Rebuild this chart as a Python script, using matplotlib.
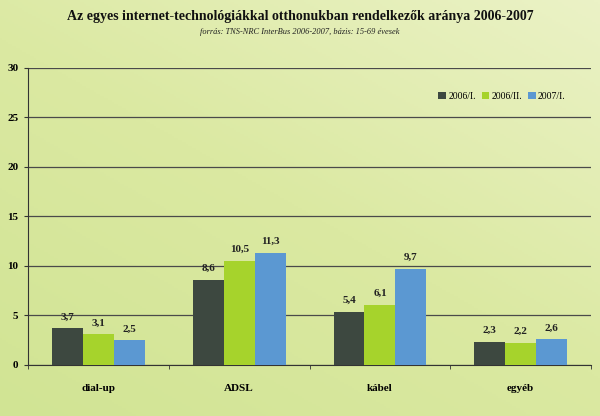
import matplotlib
matplotlib.use('Agg')
import matplotlib.pyplot as plt
import numpy as np
from matplotlib.colors import LinearSegmentedColormap

categories = ['dial-up', 'ADSL', 'kábel', 'egyéb']
series_names = ['2006/I.', '2006/II.', '2007/I.']
v_2006_1 = [3.7, 8.6, 5.4, 2.3]
v_2006_2 = [3.1, 10.5, 6.1, 2.2]
v_2007_1 = [2.5, 11.3, 9.7, 2.6]
colors = ['#3d4840', '#a6d32c', '#5b98d2']

plt.rcParams['font.family'] = ['Liberation Serif', 'DejaVu Serif']

fig = plt.figure(figsize=(6, 4.16), dpi=100)

# background gradient
bg = fig.add_axes([0, 0, 1, 1], zorder=0)
xx, yy = np.meshgrid(np.linspace(0, 1, 300), np.linspace(0, 1, 208))
grad = 0.55 * yy + 0.45 * xx
cmap = LinearSegmentedColormap.from_list('bg', ['#d1e494', '#dbe9a2', '#ebf2c6'])
bg.imshow(grad, cmap=cmap, origin='lower', aspect='auto', extent=[0, 1, 0, 1])
bg.axis('off')

ax = fig.add_axes([0.047, 0.1226, 0.938, 0.714], zorder=1)
ax.patch.set_alpha(0)

x = np.arange(len(categories))
w = 0.22
for i, (vals, name) in enumerate(zip([v_2006_1, v_2006_2, v_2007_1], series_names)):
    pos = x + (i - 1) * w
    ax.bar(pos, vals, width=w, color=colors[i], label=name, zorder=3)
    for p, v in zip(pos, vals):
        ax.text(p, v + 0.7, f'{v:.1f}'.replace('.', ','), ha='center', va='bottom',
                fontsize=8, fontweight='bold', color='#222222', zorder=4)

ax.set_xlim(-0.5, 3.5)
ax.set_ylim(0, 30)
ax.set_yticks(range(0, 31, 5))
ax.yaxis.grid(True, color='#4a4a4a', linewidth=0.9, zorder=1)
ax.set_axisbelow(True)
ax.set_xticks(x)
ax.set_xticklabels(categories, fontsize=8, fontweight='bold')
ax.tick_params(axis='x', length=0, pad=14)
ax.set_xticks(np.arange(-0.5, 4, 1), minor=True)
ax.tick_params(axis='x', which='minor', length=3, color='#333333')
ax.tick_params(axis='y', labelsize=8, length=3, color='#333333', pad=4)
for lbl in ax.get_yticklabels():
    lbl.set_fontweight('bold')
for s in ['top', 'right']:
    ax.spines[s].set_visible(False)
ax.spines['left'].set_color('#333333')
ax.spines['bottom'].set_color('#333333')

ax.legend(loc='upper right', bbox_to_anchor=(0.97, 0.95), ncol=3, frameon=False,
          fontsize=7, handlelength=0.8, handleheight=0.8, handletextpad=0.2,
          columnspacing=0.6)

fig.text(0.5, 0.96, 'Az egyes internet-technológiákkal otthonukban rendelkezők aránya 2006-2007',
         ha='center', va='center', fontsize=10, fontweight='bold', color='#111111')
fig.text(0.5, 0.922, 'forrás: TNS-NRC InterBus 2006-2007, bázis: 15-69 évesek',
         ha='center', va='center', fontsize=6, style='italic', color='#222222')

fig.savefig('out.png', dpi=100)
